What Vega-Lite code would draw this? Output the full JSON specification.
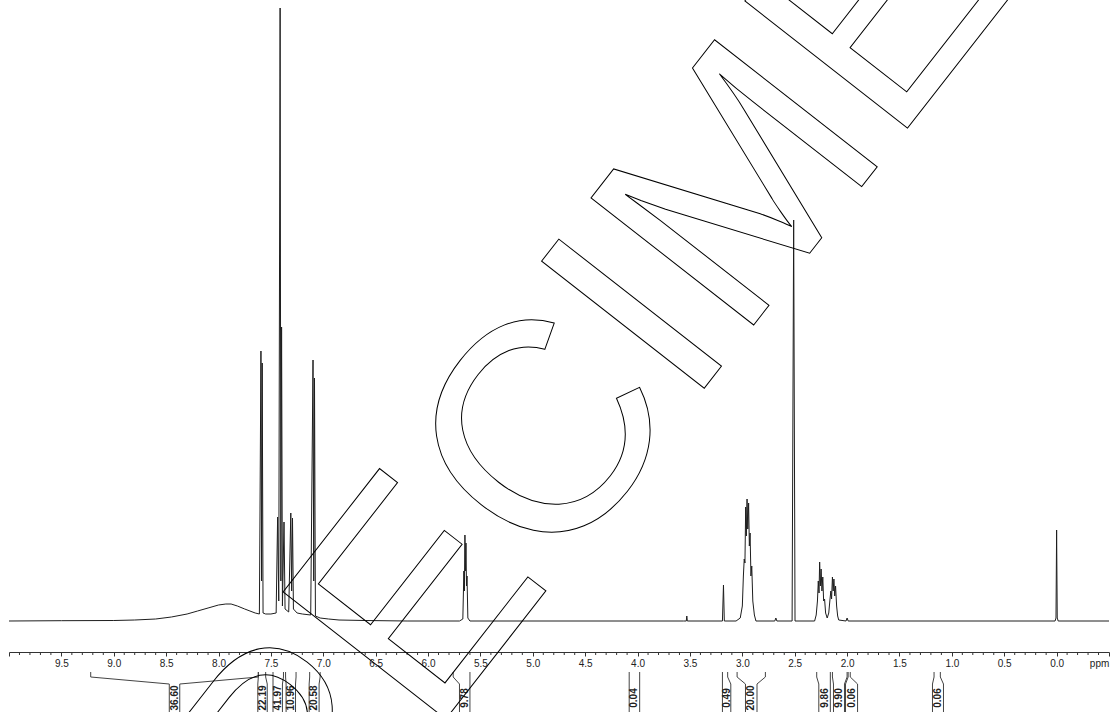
{
  "$schema": "https://vega.github.io/schema/vega-lite/v6.json",
  "width": 1100,
  "height": 652,
  "autosize": {"type": "none"},
  "padding": {"left": 9, "top": 0, "right": 5, "bottom": 60},
  "background": "white",
  "config": {
    "view": {"stroke": null},
    "axis": {"labelFlush": false, "grid": false, "title": null}
  },
  "datasets": {
    "spec": [
      {"ppm": 10.0, "v": 0}, {"ppm": 9.5, "v": 0.3}, {"ppm": 9.0, "v": 0.5}, {"ppm": 8.8, "v": 1}, {"ppm": 8.6, "v": 2},
      {"ppm": 8.45, "v": 4}, {"ppm": 8.3, "v": 7}, {"ppm": 8.2, "v": 10}, {"ppm": 8.1, "v": 13}, {"ppm": 8.0, "v": 16},
      {"ppm": 7.93, "v": 17}, {"ppm": 7.88, "v": 17}, {"ppm": 7.82, "v": 15}, {"ppm": 7.75, "v": 12}, {"ppm": 7.7, "v": 10},
      {"ppm": 7.65, "v": 8}, {"ppm": 7.61, "v": 7}, {"ppm": 7.595, "v": 270}, {"ppm": 7.589, "v": 40}, {"ppm": 7.583, "v": 258},
      {"ppm": 7.575, "v": 8}, {"ppm": 7.55, "v": 7}, {"ppm": 7.5, "v": 7}, {"ppm": 7.45, "v": 8}, {"ppm": 7.436, "v": 104},
      {"ppm": 7.425, "v": 20}, {"ppm": 7.412, "v": 613}, {"ppm": 7.405, "v": 40}, {"ppm": 7.398, "v": 294}, {"ppm": 7.39, "v": 15},
      {"ppm": 7.375, "v": 99}, {"ppm": 7.365, "v": 12}, {"ppm": 7.33, "v": 9}, {"ppm": 7.31, "v": 108}, {"ppm": 7.302, "v": 30},
      {"ppm": 7.294, "v": 103}, {"ppm": 7.285, "v": 12}, {"ppm": 7.25, "v": 8}, {"ppm": 7.2, "v": 7}, {"ppm": 7.12, "v": 6},
      {"ppm": 7.098, "v": 261}, {"ppm": 7.091, "v": 40}, {"ppm": 7.084, "v": 243}, {"ppm": 7.075, "v": 5}, {"ppm": 7.03, "v": 3},
      {"ppm": 6.95, "v": 2}, {"ppm": 6.85, "v": 1}, {"ppm": 6.6, "v": 0.5}, {"ppm": 6.2, "v": 0}, {"ppm": 5.7, "v": 0},
      {"ppm": 5.668, "v": 2}, {"ppm": 5.658, "v": 50}, {"ppm": 5.653, "v": 30}, {"ppm": 5.648, "v": 86}, {"ppm": 5.643, "v": 50},
      {"ppm": 5.638, "v": 78}, {"ppm": 5.633, "v": 35}, {"ppm": 5.628, "v": 45}, {"ppm": 5.62, "v": 3}, {"ppm": 5.6, "v": 0},
      {"ppm": 3.56, "v": 0}, {"ppm": 3.535, "v": 0}, {"ppm": 3.53, "v": 5}, {"ppm": 3.525, "v": 0}, {"ppm": 3.19, "v": 0},
      {"ppm": 3.18, "v": 36}, {"ppm": 3.172, "v": 0}, {"ppm": 3.06, "v": 0}, {"ppm": 3.02, "v": 3}, {"ppm": 3.0, "v": 15},
      {"ppm": 2.99, "v": 45}, {"ppm": 2.982, "v": 62}, {"ppm": 2.975, "v": 58}, {"ppm": 2.968, "v": 114}, {"ppm": 2.962, "v": 85},
      {"ppm": 2.955, "v": 122}, {"ppm": 2.948, "v": 92}, {"ppm": 2.94, "v": 118}, {"ppm": 2.933, "v": 75}, {"ppm": 2.926, "v": 88},
      {"ppm": 2.918, "v": 45}, {"ppm": 2.91, "v": 55}, {"ppm": 2.9, "v": 20}, {"ppm": 2.885, "v": 6}, {"ppm": 2.87, "v": 0},
      {"ppm": 2.69, "v": 0}, {"ppm": 2.68, "v": 3}, {"ppm": 2.67, "v": 0}, {"ppm": 2.525, "v": 0}, {"ppm": 2.51, "v": 401},
      {"ppm": 2.497, "v": 0}, {"ppm": 2.31, "v": 0}, {"ppm": 2.295, "v": 6}, {"ppm": 2.283, "v": 20}, {"ppm": 2.275, "v": 40},
      {"ppm": 2.268, "v": 28}, {"ppm": 2.262, "v": 59}, {"ppm": 2.255, "v": 35}, {"ppm": 2.248, "v": 52}, {"ppm": 2.24, "v": 30},
      {"ppm": 2.232, "v": 44}, {"ppm": 2.224, "v": 20}, {"ppm": 2.215, "v": 22}, {"ppm": 2.205, "v": 8}, {"ppm": 2.19, "v": 3},
      {"ppm": 2.175, "v": 8}, {"ppm": 2.163, "v": 22}, {"ppm": 2.155, "v": 30}, {"ppm": 2.148, "v": 22}, {"ppm": 2.14, "v": 44},
      {"ppm": 2.133, "v": 30}, {"ppm": 2.126, "v": 42}, {"ppm": 2.118, "v": 25}, {"ppm": 2.11, "v": 35}, {"ppm": 2.1, "v": 15},
      {"ppm": 2.09, "v": 5}, {"ppm": 2.08, "v": 1}, {"ppm": 2.01, "v": 0}, {"ppm": 2.0, "v": 3}, {"ppm": 1.99, "v": 0},
      {"ppm": 0.015, "v": 0}, {"ppm": 0.006, "v": 3}, {"ppm": 0.0, "v": 91}, {"ppm": -0.006, "v": 3}, {"ppm": -0.015, "v": 0},
      {"ppm": -0.5, "v": 0}
    ],
    "minorTicks": [
      {"ppm": -0.4}, {"ppm": -0.3}, {"ppm": -0.2}, {"ppm": -0.1},
      {"ppm": 0.1}, {"ppm": 0.2}, {"ppm": 0.3}, {"ppm": 0.4}, {"ppm": 0.6}, {"ppm": 0.7}, {"ppm": 0.8}, {"ppm": 0.9},
      {"ppm": 1.1}, {"ppm": 1.2}, {"ppm": 1.3}, {"ppm": 1.4}, {"ppm": 1.6}, {"ppm": 1.7}, {"ppm": 1.8}, {"ppm": 1.9},
      {"ppm": 2.1}, {"ppm": 2.2}, {"ppm": 2.3}, {"ppm": 2.4}, {"ppm": 2.6}, {"ppm": 2.7}, {"ppm": 2.8}, {"ppm": 2.9},
      {"ppm": 3.1}, {"ppm": 3.2}, {"ppm": 3.3}, {"ppm": 3.4}, {"ppm": 3.6}, {"ppm": 3.7}, {"ppm": 3.8}, {"ppm": 3.9},
      {"ppm": 4.1}, {"ppm": 4.2}, {"ppm": 4.3}, {"ppm": 4.4}, {"ppm": 4.6}, {"ppm": 4.7}, {"ppm": 4.8}, {"ppm": 4.9},
      {"ppm": 5.1}, {"ppm": 5.2}, {"ppm": 5.3}, {"ppm": 5.4}, {"ppm": 5.6}, {"ppm": 5.7}, {"ppm": 5.8}, {"ppm": 5.9},
      {"ppm": 6.1}, {"ppm": 6.2}, {"ppm": 6.3}, {"ppm": 6.4}, {"ppm": 6.6}, {"ppm": 6.7}, {"ppm": 6.8}, {"ppm": 6.9},
      {"ppm": 7.1}, {"ppm": 7.2}, {"ppm": 7.3}, {"ppm": 7.4}, {"ppm": 7.6}, {"ppm": 7.7}, {"ppm": 7.8}, {"ppm": 7.9},
      {"ppm": 8.1}, {"ppm": 8.2}, {"ppm": 8.3}, {"ppm": 8.4}, {"ppm": 8.6}, {"ppm": 8.7}, {"ppm": 8.8}, {"ppm": 8.9},
      {"ppm": 9.1}, {"ppm": 9.2}, {"ppm": 9.3}, {"ppm": 9.4}, {"ppm": 9.6}, {"ppm": 9.7}, {"ppm": 9.8}, {"ppm": 9.9}
    ],
    "integrals": [
      {"hi": 9.22, "lo": 7.62, "xl": 8.47, "xr": 8.37, "xc": 8.42, "label": "36.60"},
      {"hi": 7.62, "lo": 7.55, "xl": 7.625, "xr": 7.535, "xc": 7.58, "label": "22.19"},
      {"hi": 7.48, "lo": 7.38, "xl": 7.48, "xr": 7.39, "xc": 7.435, "label": "41.97"},
      {"hi": 7.36, "lo": 7.26, "xl": 7.355, "xr": 7.265, "xc": 7.31, "label": "10.96"},
      {"hi": 7.13, "lo": 7.03, "xl": 7.135, "xr": 7.04, "xc": 7.09, "label": "20.58"},
      {"hi": 5.76, "lo": 5.6, "xl": 5.7, "xr": 5.6, "xc": 5.65, "label": "9.78"},
      {"hi": 4.08, "lo": 3.98, "xl": 4.08, "xr": 3.98, "xc": 4.03, "label": "0.04"},
      {"hi": 3.19, "lo": 3.14, "xl": 3.19, "xr": 3.11, "xc": 3.15, "label": "0.49"},
      {"hi": 3.05, "lo": 2.78, "xl": 2.97, "xr": 2.86, "xc": 2.915, "label": "20.00"},
      {"hi": 2.29, "lo": 2.16, "xl": 2.27, "xr": 2.16, "xc": 2.215, "label": "9.86"},
      {"hi": 2.14, "lo": 2.0, "xl": 2.13, "xr": 2.025, "xc": 2.075, "label": "9.90"},
      {"hi": 1.99, "lo": 1.97, "xl": 2.015, "xr": 1.9, "xc": 1.955, "label": "0.06"},
      {"hi": 1.17, "lo": 1.11, "xl": 1.185, "xr": 1.08, "xc": 1.135, "label": "0.06"}
    ]
  },
  "layer": [
    {
      "data": {"name": "spec"},
      "mark": {"type": "line", "stroke": "#1e1e1e", "strokeWidth": 1, "interpolate": "linear"},
      "encoding": {
        "x": {
          "field": "ppm", "type": "quantitative",
          "scale": {"domain": [-0.5, 10], "reverse": true, "nice": false, "zero": false},
          "axis": {
            "orient": "bottom", "title": null, "grid": false,
            "values": [-0.5, 0, 0.5, 1, 1.5, 2, 2.5, 3, 3.5, 4, 4.5, 5, 5.5, 6, 6.5, 7, 7.5, 8, 8.5, 9, 9.5, 10],
            "labelExpr": "datum.value >= 0 && datum.value <= 9.5 ? format(datum.value, '.1f') : ''",
            "labelFlush": false,
            "labelFont": "Liberation Sans", "labelFontSize": 10, "labelColor": "#222", "labelPadding": 2,
            "tickSize": 4, "tickColor": "#333", "tickWidth": 1,
            "domainColor": "#333", "domainWidth": 1
          }
        },
        "y": {
          "field": "v", "type": "quantitative",
          "scale": {"domain": [-31, 621], "nice": false, "zero": false},
          "axis": null
        }
      }
    },
    {
      "data": {"name": "minorTicks"},
      "mark": {"type": "rule", "color": "#333", "strokeWidth": 1},
      "encoding": {
        "x": {"field": "ppm", "type": "quantitative"},
        "y": {"datum": -31, "type": "quantitative", "axis": null},
        "y2": {"datum": -34}
      }
    },
    {
      "data": {"values": [{"ppm": -0.41, "v": -43, "label": "ppm"}]},
      "mark": {"type": "text", "font": "Liberation Sans", "fontSize": 10, "color": "#222", "baseline": "middle", "align": "center"},
      "encoding": {
        "x": {"field": "ppm", "type": "quantitative"},
        "y": {"field": "v", "type": "quantitative", "axis": null},
        "text": {"field": "label"}
      }
    },
    {
      "data": {"name": "integrals"},
      "mark": {"type": "rule", "color": "#444", "strokeWidth": 1},
      "encoding": {
        "x": {"field": "hi", "type": "quantitative"},
        "y": {"datum": -51, "type": "quantitative", "axis": null},
        "y2": {"datum": -56}
      }
    },
    {
      "data": {"name": "integrals"},
      "mark": {"type": "rule", "color": "#444", "strokeWidth": 1},
      "encoding": {
        "x": {"field": "lo", "type": "quantitative"},
        "y": {"datum": -51, "type": "quantitative", "axis": null},
        "y2": {"datum": -56}
      }
    },
    {
      "data": {"name": "integrals"},
      "mark": {"type": "rule", "color": "#444", "strokeWidth": 1},
      "encoding": {
        "x": {"field": "hi", "type": "quantitative"},
        "x2": {"field": "xl"},
        "y": {"datum": -56, "type": "quantitative", "axis": null},
        "y2": {"datum": -63}
      }
    },
    {
      "data": {"name": "integrals"},
      "mark": {"type": "rule", "color": "#444", "strokeWidth": 1},
      "encoding": {
        "x": {"field": "lo", "type": "quantitative"},
        "x2": {"field": "xr"},
        "y": {"datum": -56, "type": "quantitative", "axis": null},
        "y2": {"datum": -63}
      }
    },
    {
      "data": {"name": "integrals"},
      "mark": {"type": "rule", "color": "#444", "strokeWidth": 1},
      "encoding": {
        "x": {"field": "xl", "type": "quantitative"},
        "y": {"datum": -63, "type": "quantitative", "axis": null},
        "y2": {"datum": -91}
      }
    },
    {
      "data": {"name": "integrals"},
      "mark": {"type": "rule", "color": "#444", "strokeWidth": 1},
      "encoding": {
        "x": {"field": "xr", "type": "quantitative"},
        "y": {"datum": -63, "type": "quantitative", "axis": null},
        "y2": {"datum": -91}
      }
    },
    {
      "data": {"name": "integrals"},
      "mark": {"type": "text", "angle": 270, "font": "Liberation Sans", "fontSize": 10, "fontWeight": "bold", "color": "#222", "align": "center", "baseline": "middle"},
      "encoding": {
        "x": {"field": "xc", "type": "quantitative"},
        "y": {"datum": -77, "type": "quantitative", "axis": null},
        "text": {"field": "label"}
      }
    },
    {
      "data": {"values": [{"ppm": 4.4, "v": 240, "label": "SPECIMEN"}]},
      "mark": {"type": "text", "angle": -52, "font": "Liberation Sans", "fontSize": 300, "fill": "transparent", "stroke": "#000", "strokeWidth": 1, "align": "center", "baseline": "middle"},
      "encoding": {
        "x": {"field": "ppm", "type": "quantitative"},
        "y": {"field": "v", "type": "quantitative", "axis": null},
        "text": {"field": "label"}
      }
    }
  ]
}
